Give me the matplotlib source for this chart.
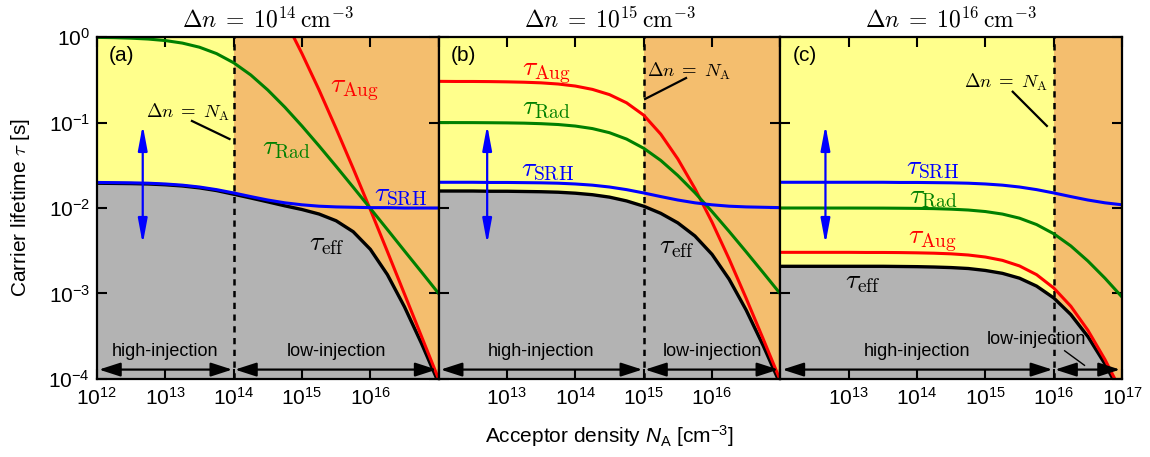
import matplotlib
matplotlib.use('Agg')
import matplotlib.pyplot as plt

plt.rcParams['font.family'] = ['Liberation Sans', 'DejaVu Sans']
plt.rcParams['mathtext.fontset'] = 'custom'
plt.rcParams['mathtext.rm'] = 'Liberation Sans'
plt.rcParams['mathtext.it'] = 'Liberation Sans:italic'
plt.rcParams['mathtext.bf'] = 'Liberation Sans:bold'
plt.rcParams['mathtext.sf'] = 'Liberation Sans'

# acceptor density N_A [cm^-3], quarter-decade grid
na = [1.0e12, 1.78e12, 3.16e12, 5.62e12,
      1.0e13, 1.78e13, 3.16e13, 5.62e13,
      1.0e14, 1.78e14, 3.16e14, 5.62e14,
      1.0e15, 1.78e15, 3.16e15, 5.62e15,
      1.0e16, 1.78e16, 3.16e16, 5.62e16,
      1.0e17]

# injection level of each panel [cm^-3]
delta_n = [1e14, 1e15, 1e16]
titles = [r'$\Delta n\;=\;10^{14}\,{\rm cm}^{-3}$',
          r'$\Delta n\;=\;10^{15}\,{\rm cm}^{-3}$',
          r'$\Delta n\;=\;10^{16}\,{\rm cm}^{-3}$']
panel_names = ['(a)', '(b)', '(c)']

# lifetimes [s], panel (a)
srh_a = [0.0199, 0.0198, 0.0197, 0.0195, 0.0191, 0.0185, 0.0176, 0.0164, 0.0150, 0.0136, 0.0124,
         0.0115, 0.0109, 0.0105, 0.0103, 0.0102, 0.0101, 0.0101, 0.0100, 0.0100, 0.0100]
rad_a = [0.990, 0.983, 0.969, 0.947, 0.909, 0.849, 0.760, 0.640, 0.500, 0.360, 0.240,
         0.151, 0.0909, 0.0532, 0.0307, 0.0175, 0.0099, 0.00559, 0.00315, 0.00178, 0.00100]
aug_a = [29.9, 29.6, 29.1, 28.2, 26.7, 24.4, 21.0, 16.6, 11.6, 7.09, 3.72,
         1.60, 0.640, 0.240, 0.0850, 0.0290, 0.00959, 0.00309, 0.000987, 0.000314, 0.0000996]
eff_a = [0.0195, 0.0194, 0.0193, 0.0191, 0.0187, 0.0181, 0.0172, 0.0160, 0.0145, 0.0131, 0.0118,
         0.0106, 0.00960, 0.00850, 0.00709, 0.00528, 0.00329, 0.00166, 0.000699, 0.000260, 0.0000897]

# panel (b)
srh_b = [0.0200, 0.0200, 0.0200, 0.0199, 0.0199, 0.0198, 0.0197, 0.0195, 0.0191, 0.0185, 0.0176,
         0.0164, 0.0150, 0.0136, 0.0124, 0.0115, 0.0109, 0.0105, 0.0103, 0.0102, 0.0101]
rad_b = [0.0999, 0.0998, 0.0997, 0.0994, 0.0990, 0.0983, 0.0969, 0.0947, 0.0909, 0.0849, 0.0760,
         0.0640, 0.0500, 0.0360, 0.0240, 0.0151, 0.00909, 0.00532, 0.00307, 0.00175, 0.00099]
aug_b = [0.303, 0.302, 0.302, 0.301, 0.299, 0.296, 0.291, 0.282, 0.267, 0.244, 0.212,
         0.170, 0.122, 0.0730, 0.0375, 0.0169, 0.00684, 0.00253, 0.000878, 0.000293, 0.0000959]
eff_b = [0.0158, 0.0158, 0.0158, 0.0157, 0.0157, 0.0156, 0.0155, 0.0153, 0.0149, 0.0143, 0.0134,
         0.0121, 0.0105, 0.00866, 0.00670, 0.00471, 0.00287, 0.00147, 0.000640, 0.000245, 0.0000866]

# panel (c)
srh_c = [0.0200, 0.0200, 0.0200, 0.0200, 0.0200, 0.0200, 0.0200, 0.0199, 0.0199, 0.0198, 0.0197,
         0.0195, 0.0191, 0.0185, 0.0176, 0.0164, 0.0150, 0.0136, 0.0124, 0.0115, 0.0109]
rad_c = [0.0100, 0.0100, 0.0100, 0.00999, 0.00999, 0.00998, 0.00997, 0.00994, 0.00990, 0.00983, 0.00969,
         0.00947, 0.00909, 0.00849, 0.00760, 0.00640, 0.00500, 0.00360, 0.00240, 0.00151, 0.000909]
aug_c = [0.00303, 0.00303, 0.00303, 0.00303, 0.00303, 0.00302, 0.00302, 0.00301, 0.00299, 0.00296, 0.00291,
         0.00282, 0.00267, 0.00244, 0.00210, 0.00166, 0.00116, 0.000709, 0.000372, 0.000169, 0.0000684]
eff_c = [0.00208, 0.00208, 0.00208, 0.00208, 0.00208, 0.00208, 0.00208, 0.00207, 0.00206, 0.00204, 0.00201,
         0.00196, 0.00186, 0.00172, 0.00151, 0.00122, 0.000888, 0.000567, 0.000314, 0.000150, 0.0000632]

xticks = [1e12, 1e13, 1e14, 1e15, 1e16, 1e17]
xtick_labels = [
    ['$10^{12}$', '$10^{13}$', '$10^{14}$', '$10^{15}$', '$10^{16}$', ''],
    ['', '$10^{13}$', '$10^{14}$', '$10^{15}$', '$10^{16}$', ''],
    ['', '$10^{13}$', '$10^{14}$', '$10^{15}$', '$10^{16}$', '$10^{17}$'],
]
yticks = [1e-4, 1e-3, 1e-2, 1e-1, 1e0]
ytick_labels = ['$10^{-4}$', '$10^{-3}$', '$10^{-2}$', '$10^{-1}$', '$10^{0}$']

YELLOW = '#FFFF8C'
ORANGE = '#F4BE6E'
GRAY = '#B3B3B3'
GREEN = '#008000'

panels = [(srh_a, rad_a, aug_a, eff_a),
          (srh_b, rad_b, aug_b, eff_b),
          (srh_c, rad_c, aug_c, eff_c)]

# label positions in decades: (x above 1e12, y below 1e0)
label_pos = [
    {'aug': (3.77, 0.62), 'rad': (2.77, 1.30), 'srh': (4.45, 1.85), 'eff': (3.37, 2.42)},
    {'aug': (1.58, 0.42), 'rad': (1.58, 0.83), 'srh': (1.59, 1.56), 'eff': (3.48, 2.46)},
    {'aug': (2.23, 2.39), 'rad': (2.23, 1.87), 'srh': (2.23, 1.53), 'eff': (1.20, 2.87)},
]
arrow_x = [0.67, 0.71, 0.66]


def P(dx, dy):
    return 10 ** (12 + dx), 10 ** (-dy)


fig, axes = plt.subplots(1, 3, figsize=(11.5, 4.57), dpi=100, sharey=True)
fig.subplots_adjust(left=0.0843, right=0.9757, top=0.919, bottom=0.1707, wspace=0)

for i, ax in enumerate(axes):
    srh, rad, aug, eff = panels[i]
    dn = delta_n[i]
    ax.set_xscale('log')
    ax.set_yscale('log')
    ax.set_xlim(1e12, 1e17)
    ax.set_ylim(1e-4, 1)

    ax.axvspan(1e12, dn, color=YELLOW, lw=0, zorder=0)
    ax.axvspan(dn, 1e17, color=ORANGE, lw=0, zorder=0)
    ax.fill_between(na, eff, 1e-4, color=GRAY, lw=0, zorder=1)
    ax.axvline(dn, color='k', ls=(0, (2.5, 2.2)), lw=1.8, zorder=2)

    ax.plot(na, eff, color='k', lw=2.4, zorder=3)
    ax.plot(na, aug, color='red', lw=2.2, zorder=4)
    ax.plot(na, rad, color=GREEN, lw=2.2, zorder=4)
    ax.plot(na, srh, color='blue', lw=2.2, zorder=4)

    lp = label_pos[i]
    kw = dict(fontsize=20, math_fontfamily='cm', ha='center', va='center', zorder=6)
    ax.text(*P(*lp['aug']), r'$\tau_{\rm Aug}$', color='red', **kw)
    ax.text(*P(*lp['rad']), r'$\tau_{\rm Rad}$', color=GREEN, **kw)
    ax.text(*P(*lp['srh']), r'$\tau_{\rm SRH}$', color='blue', **kw)
    ax.text(*P(*lp['eff']), r'$\tau_{\rm eff}$', color='k', **kw)

    # blue double arrow
    ax.annotate('', xy=P(arrow_x[i], 1.03), xytext=P(arrow_x[i], 2.42),
                arrowprops=dict(arrowstyle='<|-|>,head_length=1.5,head_width=0.28',
                                color='blue', lw=1.6, shrinkA=0, shrinkB=0), zorder=6)

    # injection regime arrows
    ya = 10 ** -3.89
    ahead = dict(arrowstyle='<|-|>,head_length=1.3,head_width=0.42',
                 color='k', lw=1.6, shrinkA=0, shrinkB=0)
    ax.annotate('', xy=(1e12 * 10 ** 0.03, ya), xytext=(dn * 10 ** -0.02, ya),
                arrowprops=ahead, zorder=6)
    ax.annotate('', xy=(dn * 10 ** 0.02, ya), xytext=(1e17 * 10 ** -0.03, ya),
                arrowprops=ahead, zorder=6)
    ax.text((1e12 * dn) ** 0.5, 10 ** -3.68, 'high-injection', fontsize=13,
            ha='center', va='center', zorder=6)

    ax.text(0.035, 0.945, panel_names[i], transform=ax.transAxes, fontsize=15,
            ha='left', va='center', zorder=6)
    ax.set_title(titles[i], fontsize=17, math_fontfamily='cm', pad=7)

    ax.set_xticks(xticks)
    ax.set_xticklabels(xtick_labels[i])
    ax.set_yticks(yticks)
    ax.minorticks_off()
    ax.tick_params(which='both', direction='in', top=True, right=True,
                   length=7, width=1.5, labelsize=15, pad=6)
    for s in ax.spines.values():
        s.set_linewidth(1.6)
        s.set_zorder(7)

axes[0].set_yticklabels(ytick_labels)
axes[0].tick_params(axis='y', pad=5)

# "low-injection" labels
axes[0].text(10 ** 15.5, 10 ** -3.68, 'low-injection', fontsize=13, ha='center', va='center', zorder=6)
axes[1].text(10 ** 16.0, 10 ** -3.68, 'low-injection', fontsize=13, ha='center', va='center', zorder=6)
axes[2].text(10 ** 15.75, 10 ** -3.54, 'low-injection', fontsize=13, ha='center', va='center', zorder=6)
axes[2].plot([10 ** 16.16, 10 ** 16.45], [10 ** -3.67, 10 ** -3.84], color='k', lw=1, zorder=6)

# "Delta n = N_A" markers
kw = dict(fontsize=13.5, math_fontfamily='cm', va='center', zorder=6)
label_na = r'$\Delta n\;=\;N_{\rm A}$'
axes[0].text(10 ** 13.94, 10 ** -0.877, label_na, ha='right', **kw)
axes[0].plot([10 ** 13.39, 10 ** 13.94], [10 ** -0.982, 10 ** -1.193], color='k', lw=1.6, zorder=6)
axes[1].text(10 ** 15.05, 10 ** -0.40, label_na, ha='left', **kw)
axes[1].plot([10 ** 15.62, 10 ** 15.02], [10 ** -0.48, 10 ** -0.725], color='k', lw=1.6, zorder=6)
axes[2].text(10 ** 15.91, 10 ** -0.53, label_na, ha='right', **kw)
axes[2].plot([10 ** 15.40, 10 ** 15.90], [10 ** -0.64, 10 ** -1.04], color='k', lw=1.6, zorder=6)

axes[0].set_ylabel(r'Carrier lifetime $\tau$ [s]', fontsize=15, math_fontfamily='cm', labelpad=12)
axes[1].set_xlabel(r'Acceptor density $N_{\rm A}$ [cm$^{-3}$]', fontsize=15, labelpad=10)

fig.savefig('out.png', dpi=100)
